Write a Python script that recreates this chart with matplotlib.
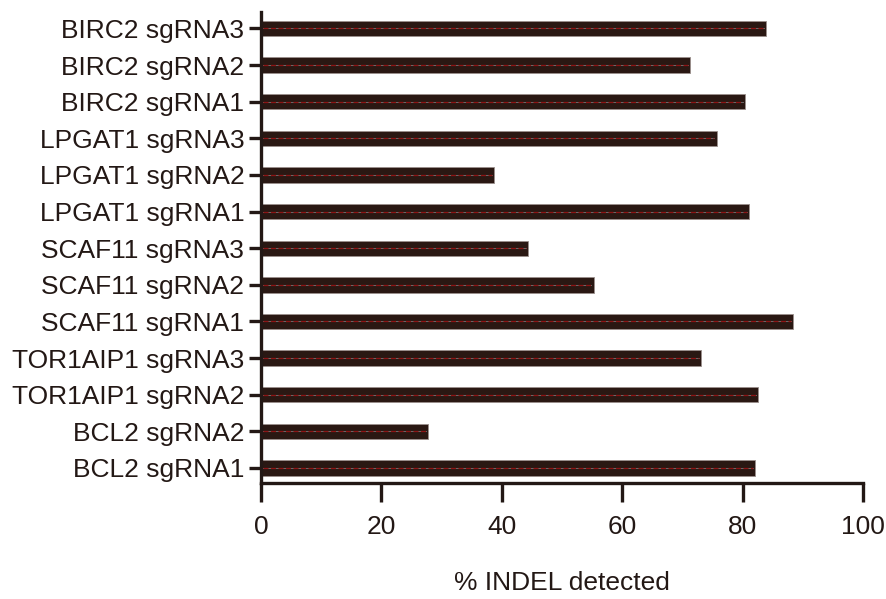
import matplotlib
matplotlib.use('Agg')
import matplotlib.pyplot as plt

# guide RNAs, bottom to top
guides = ['BCL2 sgRNA1', 'BCL2 sgRNA2', 'TOR1AIP1 sgRNA2', 'TOR1AIP1 sgRNA3',
          'SCAF11 sgRNA1', 'SCAF11 sgRNA2', 'SCAF11 sgRNA3',
          'LPGAT1 sgRNA1', 'LPGAT1 sgRNA2', 'LPGAT1 sgRNA3',
          'BIRC2 sgRNA1', 'BIRC2 sgRNA2', 'BIRC2 sgRNA3']
indel = [82.1, 27.8, 82.6, 73.1, 88.4, 55.3, 44.4,
         81.1, 38.7, 75.7, 80.4, 71.3, 83.9]
xticks = [0, 20, 40, 60, 80, 100]

ink = '#231815'
bar_col = '#2a1813'

plt.rcParams['font.family'] = ['Liberation Sans', 'DejaVu Sans']

fig = plt.figure(figsize=(8.86, 5.99), dpi=100)
ax = fig.add_axes([0.2946, 0.1937, 0.6794, 0.7863])

ypos = list(range(len(guides)))
ax.barh(ypos, indel, height=0.42, color=bar_col, edgecolor='#9a8f8c',
        linewidth=0.6, zorder=2)

# thin dashed centre line inside each bar
for y, v in zip(ypos, indel):
    ax.plot([0.3, v - 0.4], [y, y], color='#6e6a69', lw=0.7, zorder=3)
    ax.plot([0.3, v - 0.4], [y, y], color='#8c1414', lw=0.9,
            dashes=(4, 2), zorder=4)

ax.set_xlim(0, 100)
ax.set_ylim(-0.41, 12.45)
ax.set_xticks(xticks)
ax.set_yticks(ypos)
ax.set_yticklabels(guides)

for side in ['top', 'right']:
    ax.spines[side].set_visible(False)
for side in ['left', 'bottom']:
    ax.spines[side].set_linewidth(2.4)
    ax.spines[side].set_color(ink)

ax.tick_params(axis='x', length=14, width=2.4, color=ink, labelcolor=ink,
               labelsize=19, pad=9)
ax.tick_params(axis='y', length=9, width=2.4, color=ink, labelcolor=ink,
               labelsize=19, pad=3)

ax.set_xlabel('% INDEL detected', fontsize=19, color=ink, labelpad=23)

fig.savefig('out.png', dpi=100)
